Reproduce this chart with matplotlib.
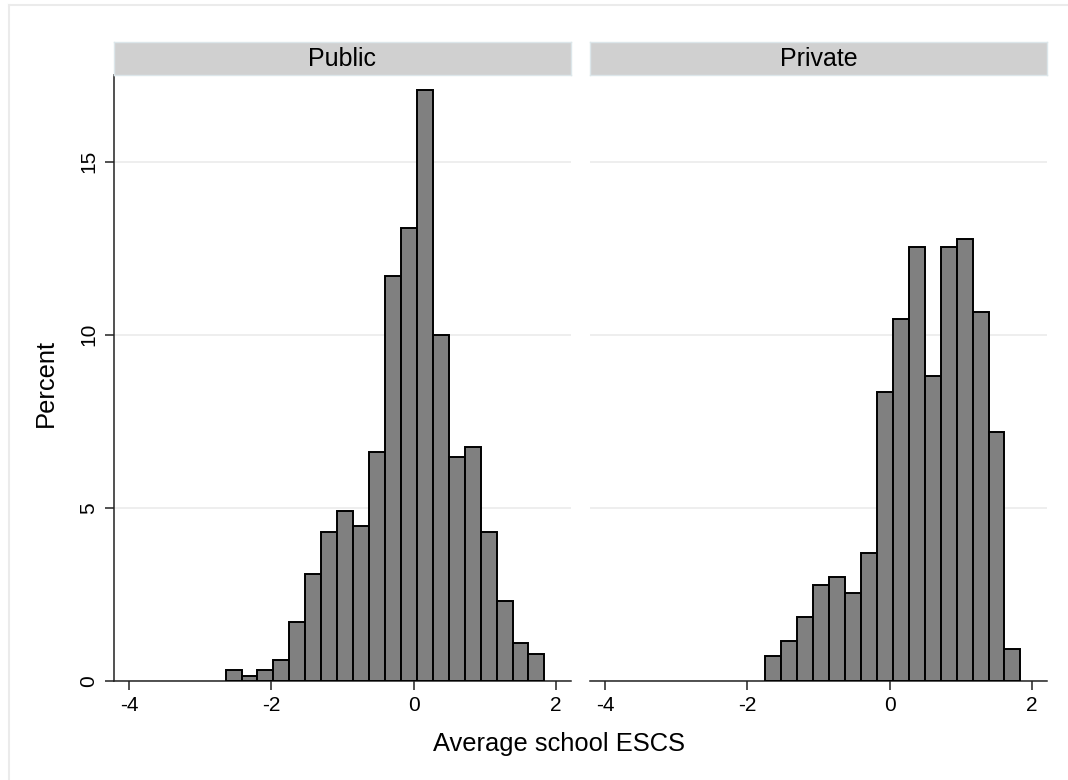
import numpy as np
import matplotlib
matplotlib.use("Agg")
import matplotlib.pyplot as plt
from matplotlib.lines import Line2D

# Histogram of average school ESCS by school type (common bins, 20 bins)
escs_min = -2.642
escs_max = 1.836
n_bins = 20

public_pct = [0.31, 0.14, 0.31, 0.61, 1.69, 3.08, 4.31, 4.92, 4.47, 6.62,
              11.70, 13.08, 17.08, 10.00, 6.47, 6.77, 4.31, 2.32, 1.09, 0.78]
private_pct = [0.00, 0.00, 0.00, 0.00, 0.71, 1.15, 1.85, 2.78, 3.01, 2.54,
               3.71, 8.36, 10.44, 12.53, 8.82, 12.53, 12.76, 10.66, 7.18, 0.91]

panel_titles = ["Public", "Private"]
x_ticks = [-4, -2, 0, 2]
y_ticks = [0, 5, 10, 15]

plt.rcParams["font.family"] = ["Liberation Sans", "DejaVu Sans"]

W, H = 1068, 780
fig = plt.figure(figsize=(W / 100, H / 100), dpi=100)
fig.patch.set_facecolor("white")


def fx(px):
    return px / W


def fy(py):
    return 1 - py / H


# light outer graph-region border
fig.add_artist(Line2D([fx(9), fx(9)], [fy(5), 0], color="#ebebeb", lw=1.5,
                      transform=fig.transFigure))
fig.add_artist(Line2D([fx(9), 1], [fy(5), fy(5)], color="#ebebeb", lw=1.5,
                      transform=fig.transFigure))

edges = np.linspace(escs_min, escs_max, n_bins + 1)
lefts = edges[:-1]
widths = np.diff(edges)

panel_left = [114, 590]
panel_w = 457
plot_top, plot_bottom = 75, 681
strip_top = 42
axis_col = "#222222"

for i, (title, pct) in enumerate(zip(panel_titles, [public_pct, private_pct])):
    x0 = panel_left[i]
    ax = fig.add_axes([fx(x0), fy(plot_bottom), panel_w / W,
                       (plot_bottom - plot_top) / H])
    pct = np.asarray(pct)
    keep = pct > 0
    ax.bar(lefts[keep], pct[keep], width=widths[keep], align="edge",
           color="#808080", edgecolor="black", linewidth=1.4, zorder=3)
    ax.set_xlim(-4.21, 2.21)
    ax.set_ylim(0, 17.5)
    ax.set_xticks(x_ticks)
    ax.set_xticklabels([str(t) for t in x_ticks])
    ax.set_yticks(y_ticks)
    ax.set_axisbelow(True)
    ax.yaxis.grid(True, color="#eaeaea", linewidth=1.1)
    ax.xaxis.grid(False)
    for s in ["top", "right"]:
        ax.spines[s].set_visible(False)
    ax.spines["bottom"].set_color(axis_col)
    ax.spines["bottom"].set_linewidth(1.1)
    ax.spines["left"].set_color(axis_col)
    ax.spines["left"].set_linewidth(1.1)
    ax.tick_params(axis="x", direction="out", length=6.5, width=1.1,
                   color=axis_col, labelsize=15, pad=4)
    if i == 0:
        ax.tick_params(axis="y", direction="out", length=6.5, width=1.1,
                       color=axis_col, labelsize=15, pad=5, labelrotation=90)
        for lab in ax.get_yticklabels():
            lab.set_verticalalignment("center")
    else:
        ax.spines["left"].set_visible(False)
        ax.tick_params(axis="y", left=False, labelleft=False)

    sax = fig.add_axes([fx(x0), fy(plot_top), panel_w / W,
                        (plot_top - strip_top) / H])
    sax.set_facecolor("#d0d0d0")
    sax.set_xticks([])
    sax.set_yticks([])
    for s in sax.spines.values():
        s.set_color("#dce6ea")
        s.set_linewidth(1.0)
    sax.text(0.5, 0.5, title, ha="center", va="center", fontsize=18,
             transform=sax.transAxes)

fig.text(fx(53), fy(383), "Percent", rotation=90, rotation_mode="anchor",
         ha="center", va="baseline", fontsize=18.4)
fig.text(fx(559), fy(751), "Average school ESCS", ha="center",
         va="baseline", fontsize=18.4)

fig.savefig("out.png", dpi=100)
